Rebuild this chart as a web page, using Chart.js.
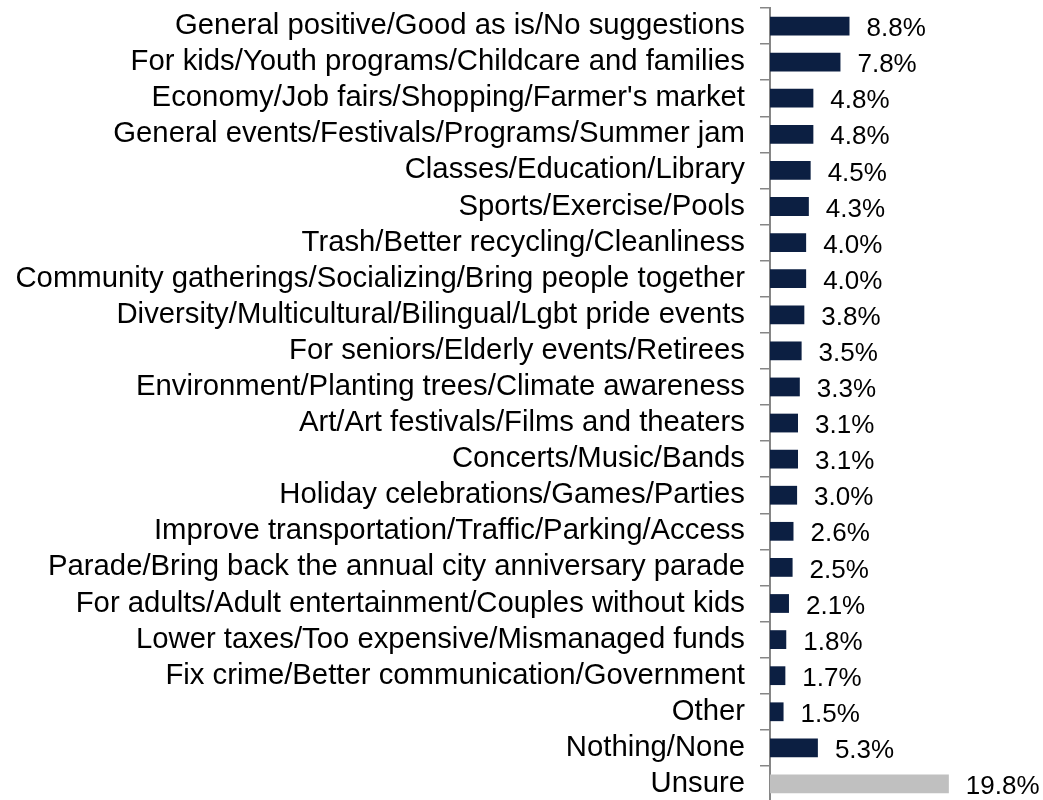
<!DOCTYPE html>
<html>
<head>
<meta charset="utf-8">
<script src="https://cdn.jsdelivr.net/npm/chart.js@4"></script>
<style>
  html, body { margin: 0; padding: 0; background: #fff; overflow: hidden; }
  #wrap { width: 1043px; height: 802px; position: relative; }
</style>
</head>
<body>
<div id="wrap"><canvas id="chart"></canvas></div>
<script>
const categories = [
  "General positive/Good as is/No suggestions",
  "For kids/Youth programs/Childcare and families",
  "Economy/Job fairs/Shopping/Farmer's market",
  "General events/Festivals/Programs/Summer jam",
  "Classes/Education/Library",
  "Sports/Exercise/Pools",
  "Trash/Better recycling/Cleanliness",
  "Community gatherings/Socializing/Bring people together",
  "Diversity/Multicultural/Bilingual/Lgbt pride events",
  "For seniors/Elderly events/Retirees",
  "Environment/Planting trees/Climate awareness",
  "Art/Art festivals/Films and theaters",
  "Concerts/Music/Bands",
  "Holiday celebrations/Games/Parties",
  "Improve transportation/Traffic/Parking/Access",
  "Parade/Bring back the annual city anniversary parade",
  "For adults/Adult entertainment/Couples without kids",
  "Lower taxes/Too expensive/Mismanaged funds",
  "Fix crime/Better communication/Government",
  "Other",
  "Nothing/None",
  "Unsure"
];
const percents = [8.8, 7.8, 4.8, 4.8, 4.5, 4.3, 4.0, 4.0, 3.8, 3.5, 3.3, 3.1, 3.1, 3.0, 2.6, 2.5, 2.1, 1.8, 1.7, 1.5, 5.3, 19.8];

const navy = "#0c1f42";
const grey = "#c0c0c0";
const axisGrey = "#868686";
const fontFamily = "'Liberation Sans', Arial, sans-serif";

let barColors = percents.map((v) => navy);
barColors[percents.length - 1] = grey;

// writes the percentage just past the end of each bar
const valueLabels = {
  id: "valueLabels",
  afterDatasetsDraw(chart) {
    const c = chart.ctx;
    const meta = chart.getDatasetMeta(0);
    c.save();
    c.font = "26px " + fontFamily;
    c.fillStyle = "#000";
    c.textAlign = "left";
    c.textBaseline = "middle";
    meta.data.forEach((bar, i) => {
      c.fillText(percents[i].toFixed(1) + "%", bar.x + 17, bar.y + 3);
    });
    c.restore();
  }
};

new Chart(document.getElementById("chart"), {
  type: "bar",
  data: {
    labels: categories,
    datasets: [
      {
        data: percents,
        backgroundColor: barColors,
        borderWidth: 0,
        barPercentage: 0.52,
        categoryPercentage: 1
      }
    ]
  },
  plugins: [valueLabels],
  options: {
    indexAxis: "y",
    responsive: true,
    maintainAspectRatio: false,
    animation: false,
    layout: {
      padding: { top: 8, left: 0, right: 2, bottom: 0 }
    },
    scales: {
      x: {
        display: false,
        min: 0,
        max: 30
      },
      y: {
        afterFit: (scale) => {
          // fixed label column; no extra room above/below for the labels
          scale.width = 770;
          scale.paddingTop = 0;
          scale.paddingBottom = 0;
        },
        border: { display: true, color: axisGrey, width: 2 },
        grid: {
          drawOnChartArea: false,
          drawTicks: true,
          tickLength: 10,
          color: axisGrey,
          lineWidth: 1.5
        },
        ticks: {
          padding: 15,
          color: "#000",
          autoSkip: false,
          font: { family: fontFamily, size: 29.3 }
        }
      }
    },
    plugins: {
      legend: { display: false },
      tooltip: { enabled: false }
    }
  }
});
</script>
</body>
</html>
